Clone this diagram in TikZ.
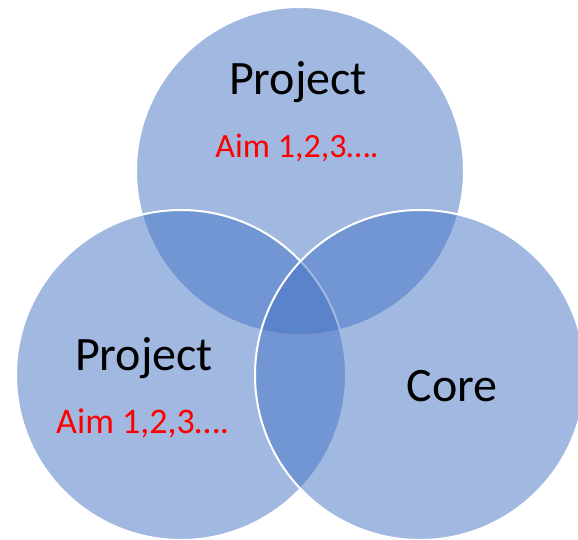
\documentclass[tikz,border=0pt]{standalone}
\usepackage{fontspec}
\setmainfont{Carlito}
\definecolor{accent}{HTML}{4472C4}
\definecolor{aimred}{HTML}{FF0000}
\tikzset{
  venn/.style={fill=accent, fill opacity=0.5, draw=white, draw opacity=1, line width=2pt},
  title/.style={anchor=base, inner sep=0pt, text=black, font=\fontsize{48}{56}\selectfont},
  aim/.style={anchor=base, inner sep=0pt, text=aimred, font=\fontsize{#1}{40}\selectfont},
}
\begin{document}
\begin{tikzpicture}[x=1pt,y=-1pt]
\useasboundingbox (0,0) rectangle (578,540);
\clip (0,0) rectangle (578,540);
\draw[venn] (300,171) circle[radius=164] coordinate (ctop);
\draw[venn] (181,375) circle[radius=165] coordinate (cleft);
\draw[venn] (420,375) circle[radius=165] coordinate (cright);
\node[title] (t1) at (298,95) {Project};
\node[aim=34] (a1) at (297,158) {Aim 1,2,3….};
\node[title] (t2) at (144,370) {Project};
\node[aim=36] (a2) at (142.5,433) {Aim 1,2,3….};
\node[title] (t3) at (452,401) {Core};
\end{tikzpicture}
\end{document}
